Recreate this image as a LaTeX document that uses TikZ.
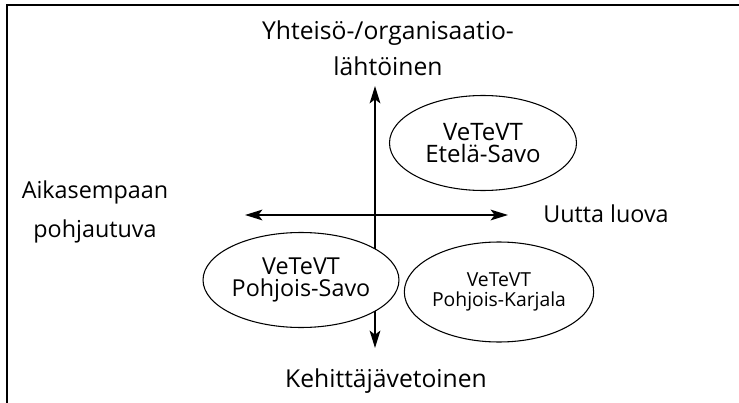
\documentclass[tikz,border=0pt]{standalone}
\usepackage{fontspec}
\setmainfont{Open Sans}
\usetikzlibrary{shapes.geometric, arrows.meta}

\begin{document}
\begin{tikzpicture}[x=0.75pt, y=-0.75pt,
    >={Stealth[length=13pt, width=8pt, inset=3pt]},
    kupla/.style={draw, ellipse, fill=white, line width=0.8pt, align=center, inner sep=0pt},
    akseli/.style={font=\fontsize{18.5}{27}\selectfont, align=center}]
  \useasboundingbox (0,0) rectangle (739,403);

  % Draw the frame (top and left edge only)
  \draw[line width=1.6pt] (739,5) -- (7,5) -- (7,403);

  % Draw the two axes
  \coordinate (ylos) at (375,86);
  \coordinate (alas) at (375,348);
  \coordinate (vasen) at (245,215);
  \coordinate (oikea) at (508,215);
  \draw[<->, line width=1.5pt] (alas) -- (ylos);
  \draw[<->, line width=1.5pt] (vasen) -- (oikea);

  % Labels at the ends of the axes
  \node[akseli] (yla) at (388,48) {Yhteisö-/organisaatio-\\lähtöinen};
  \node[akseli, font=\fontsize{17.5}{29}\selectfont] (aiempi) at (95,212) {Aikasempaan\\pohjautuva};
  \node[akseli, font=\fontsize{17.5}{27}\selectfont] (uusi) at (606,214) {Uutta luova};
  \node[akseli] (ala) at (386,381) {Kehittäjävetoinen};

  % Draw the bubbles
  \node[kupla, minimum width=187*0.75pt, minimum height=95*0.75pt,
        font=\fontsize{18}{17}\selectfont] (etela) at (483,143) {VeTeVT\\Etelä-Savo};
  \node[kupla, minimum width=182*0.75pt, minimum height=95*0.75pt,
        font=\fontsize{17.5}{17}\selectfont] (pohjoissavo) at (301,280) {VeTeVT\\Pohjois-Savo};
  \node[kupla, minimum width=187*0.75pt, minimum height=100*0.75pt,
        font=\fontsize{14.5}{15.5}\selectfont] (karjala) at (499,292) {VeTeVT\\Pohjois-Karjala};

\end{tikzpicture}
\end{document}
